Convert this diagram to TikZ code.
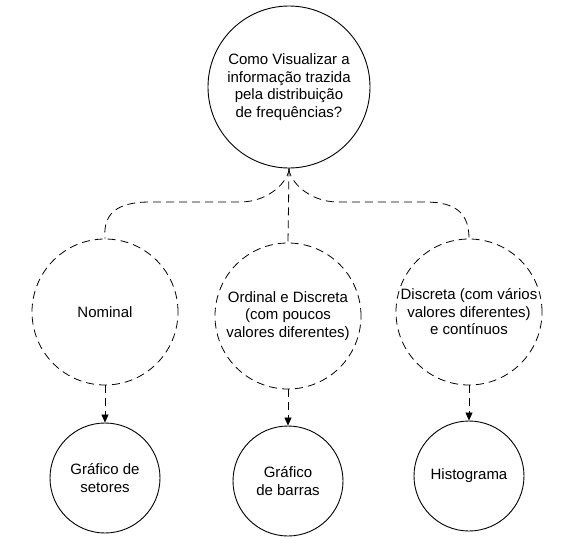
\documentclass[tikz,border=0pt]{standalone}
\usepackage{fontspec}
\setmainfont{Liberation Sans}
\usetikzlibrary{arrows.meta,positioning}

\begin{document}
\begin{tikzpicture}[x=1pt, y=-1pt,
    question/.style={draw, circle, line width=0.9pt, minimum size=162pt, inner sep=0pt, align=center, font=\fontsize{15}{17.5}\selectfont},
    kind/.style={draw, circle, line width=0.8pt, dash pattern=on 8pt off 5pt, minimum size=146pt, inner sep=0pt, align=center, font=\fontsize{15}{17.5}\selectfont},
    chart/.style={draw, circle, line width=0.9pt, minimum size=110pt, inner sep=0pt, align=center, font=\fontsize{15}{17.5}\selectfont},
    link/.style={line width=0.8pt, dash pattern=on 8pt off 5pt}]
    \useasboundingbox (0,0) rectangle (563,542);

    \node[question] (q) at (289,87) {Como Visualizar a\\informação trazida\\pela distribuição\\de frequências?};

    \node[kind] (k1) at (105,312) {Nominal};
    \node[kind] (k2) at (288,316) {Ordinal e Discreta\\(com poucos\\valores diferentes)};
    \node[kind] (k3) at (469,312) {Discreta (com vários\\valores diferentes)\\e contínuos};

    \node[chart] (c1) at (105,478) {Gráfico de\\setores};
    \node[chart] (c2) at (288,481) {Gráfico\\de barras};
    \node[chart] (c3) at (469,476) {Histograma};

    % question -> kinds of data
    \draw[link] (q.south) .. controls (289,180) and (270,202) .. (240,202)
        -- (150,202) .. controls (115,202) and (103,215) .. (k1.north);
    \draw[link] (q.south) -- (k2.north);
    \draw[link] (q.south) .. controls (289,180) and (308,202) .. (338,202)
        -- (425,202) .. controls (458,202) and (469,215) .. (k3.north);

    % kinds -> charts
    \draw
    (k1) edge[link, -{Triangle[length=8pt, width=7pt]}] (c1)
    (k2) edge[link, -{Triangle[length=8pt, width=7pt]}] (c2)
    (k3) edge[link, -{Triangle[length=8pt, width=7pt]}] (c3);
\end{tikzpicture}
\end{document}
